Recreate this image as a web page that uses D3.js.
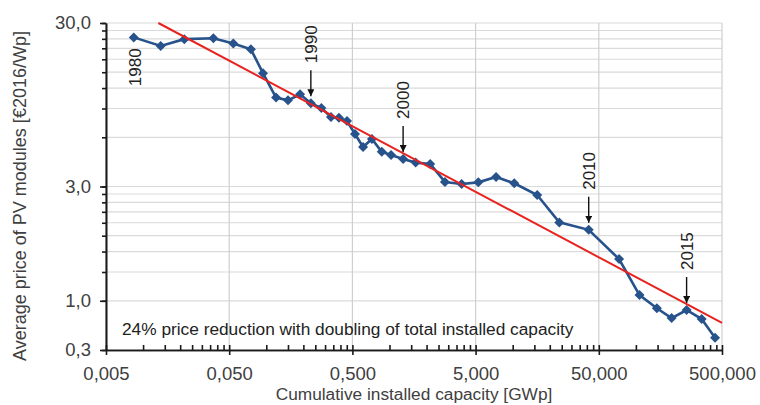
<!DOCTYPE html>
<html>
<head>
<meta charset="utf-8">
<script src="https://cdn.jsdelivr.net/npm/d3@7"></script>
<style>
body { margin: 0; background: #fff; }
svg { display: block; font-family: "Liberation Sans", Arial, sans-serif; }
</style>
</head>
<body>
<div id="chart"></div>
<script>
// cumulative installed capacity [GWp] and module price [EUR2016/Wp], one point per year 1980-2017
var capacity = [0.0084, 0.0139, 0.0216, 0.0372, 0.054, 0.075, 0.094, 0.12, 0.15, 0.188,
    0.23, 0.28, 0.335, 0.389, 0.452, 0.525, 0.61, 0.72, 0.865, 1.03,
    1.29, 1.63, 2.14, 2.82, 3.85, 5.26, 7.33, 10.3, 15.8, 23.9,
    41.4, 73, 107, 148, 195, 258, 342, 439];
var price = [24.5, 21.7, 23.9, 24.2, 22.5, 20.7, 14.8, 10.5, 10.1, 11.0,
    9.7, 9.06, 7.98, 7.9, 7.55, 6.28, 5.23, 5.86, 4.89, 4.68,
    4.42, 4.2, 4.12, 3.2, 3.11, 3.18, 3.43, 3.14, 2.66, 1.81,
    1.63, 1.08, 0.65, 0.54, 0.47, 0.527, 0.464, 0.357];

// learning curve (24% per doubling)
var trendCapacity = [0.0133, 500];
var trendPrice = [30, 0.44];

var xTicks = [0.005, 0.05, 0.5, 5, 50, 500];
var xTickLabels = ["0,005", "0,050", "0,500", "5,000", "50,000", "500,000"];
var yTicks = [0.3, 0.6, 3, 30];
var yTickLabels = ["0,3", "1,0", "3,0", "30,0"];
var yDecades = [0.3, 3, 30];

var annotYears = ["1980", "1990", "2000", "2010", "2015"];
var annotIndex = [0, 10, 20, 30, 35];

var W = 760, H = 405;
var plotLeft = 106, plotRight = 722, plotTop = 23, plotBottom = 350;
var textColor = "#404040";

var svg = d3.select("#chart").append("svg")
    .attr("width", W)
    .attr("height", H);
svg.append("rect").attr("width", W).attr("height", H).attr("fill", "#fff");

var x = d3.scaleLog().domain([0.005, 500]).range([plotLeft, plotRight]);
var y = d3.scaleLog().domain([0.3, 30]).range([plotBottom, plotTop]);

// minor ticks: Excel style multiples of the decade start
var xMinor = [], yMinor = [];
xTicks.slice(0, -1).forEach(function (d) {
    for (var k = 2; k < 10; k++) xMinor.push(d * k);
});
yDecades.slice(0, -1).forEach(function (d) {
    for (var k = 2; k < 10; k++) yMinor.push(d * k);
});

// Grid
var grid = svg.append("g");
grid.selectAll(".hg")
    .data(yDecades.concat(yMinor))
    .enter().append("line")
    .attr("x1", plotLeft).attr("x2", plotRight)
    .attr("y1", function (d) { return y(d); })
    .attr("y2", function (d) { return y(d); })
    .attr("stroke", "#dadada")
    .attr("stroke-width", 1.2);
grid.selectAll(".vg")
    .data(xTicks)
    .enter().append("line")
    .attr("y1", plotTop).attr("y2", plotBottom)
    .attr("x1", function (d) { return x(d); })
    .attr("x2", function (d) { return x(d); })
    .attr("stroke", "#cfcfcf")
    .attr("stroke-width", 1.2);

// Axes
svg.append("g")
    .attr("transform", "translate(" + plotLeft + ",0)")
    .call(d3.axisLeft(y).tickValues(yTicks)
        .tickFormat(function (d, i) { return yTickLabels[i]; })
        .tickSizeInner(6).tickSizeOuter(0).tickPadding(9));
svg.append("g")
    .attr("transform", "translate(" + plotLeft + ",0)")
    .call(d3.axisLeft(y).tickValues(yMinor.concat(yDecades))
        .tickFormat("").tickSizeInner(4).tickSizeOuter(0));

svg.append("g")
    .attr("transform", "translate(0," + plotBottom + ")")
    .call(d3.axisBottom(x).tickValues(xTicks)
        .tickFormat(function (d, i) { return xTickLabels[i]; })
        .tickSizeInner(5).tickSizeOuter(0).tickPadding(12));
svg.append("g")
    .attr("transform", "translate(0," + plotBottom + ")")
    .call(d3.axisBottom(x).tickValues(xMinor.concat(xTicks))
        .tickFormat("").tickSizeInner(-5).tickSizeOuter(0));

svg.selectAll(".domain, .tick line")
    .attr("stroke", "#1a1a1a")
    .attr("stroke-width", 1.6);
svg.selectAll(".tick text")
    .attr("fill", textColor)
    .style("font-size", "18.5px");

// Axis titles
svg.append("text")
    .attr("x", (plotLeft + plotRight) / 2)
    .attr("y", 400)
    .attr("text-anchor", "middle")
    .attr("fill", textColor)
    .style("font-size", "17.3px")
    .text("Cumulative installed capacity [GWp]");
svg.append("text")
    .attr("transform", "translate(26,196) rotate(-90)")
    .attr("text-anchor", "middle")
    .attr("fill", textColor)
    .style("font-size", "18px")
    .text("Average price of PV modules [€2016/Wp]");

// Data line
var line = d3.line()
    .x(function (d) { return x(d[0]); })
    .y(function (d) { return y(d[1]); });
var pts = d3.zip(capacity, price);

svg.append("path")
    .datum(pts)
    .attr("d", line)
    .attr("fill", "none")
    .attr("stroke", "#27528b")
    .attr("stroke-width", 2.6);
svg.selectAll(".pt")
    .data(pts)
    .enter().append("path")
    .attr("d", d3.symbol(d3.symbolSquare).size(50))
    .attr("transform", function (d) {
        return "translate(" + x(d[0]) + "," + y(d[1]) + ") rotate(45)";
    })
    .attr("fill", "#27528b");

// Trend line
svg.append("path")
    .datum(d3.zip(trendCapacity, trendPrice))
    .attr("d", line)
    .attr("fill", "none")
    .attr("stroke", "#e8231f")
    .attr("stroke-width", 2);

// Note
svg.append("text")
    .attr("x", 122)
    .attr("y", 335)
    .attr("fill", "#222")
    .style("font-size", "17.3px")
    .text("24% price reduction with doubling of total installed capacity");

// Year annotations
svg.append("defs").append("marker")
    .attr("id", "arrow")
    .attr("viewBox", "0 0 10 10")
    .attr("refX", 10).attr("refY", 5)
    .attr("markerWidth", 5).attr("markerHeight", 5)
    .attr("orient", "auto")
    .append("path")
    .attr("d", "M0,0L10,5L0,10Z")
    .attr("fill", "#111");

annotYears.forEach(function (yr, i) {
    var px = x(capacity[annotIndex[i]]), py = y(price[annotIndex[i]]);
    if (i === 0) {
        // 1980 sits under its point, no arrow
        svg.append("text")
            .attr("transform", "translate(" + (px + 1) + "," + (py + 11) + ") rotate(-90)")
            .attr("dy", "0.35em")
            .attr("text-anchor", "end")
            .attr("fill", "#222")
            .style("font-size", "17px")
            .text(yr);
        return;
    }
    var tip = py - 7, tail = tip - 26;
    svg.append("line")
        .attr("x1", px).attr("x2", px)
        .attr("y1", tail).attr("y2", tip)
        .attr("stroke", "#111")
        .attr("stroke-width", 1.4)
        .attr("marker-end", "url(#arrow)");
    svg.append("text")
        .attr("transform", "translate(" + px + "," + (tail - 7) + ") rotate(-90)")
        .attr("dy", "0.35em")
        .attr("fill", "#222")
        .style("font-size", "17px")
        .text(yr);
});
</script>
</body>
</html>
